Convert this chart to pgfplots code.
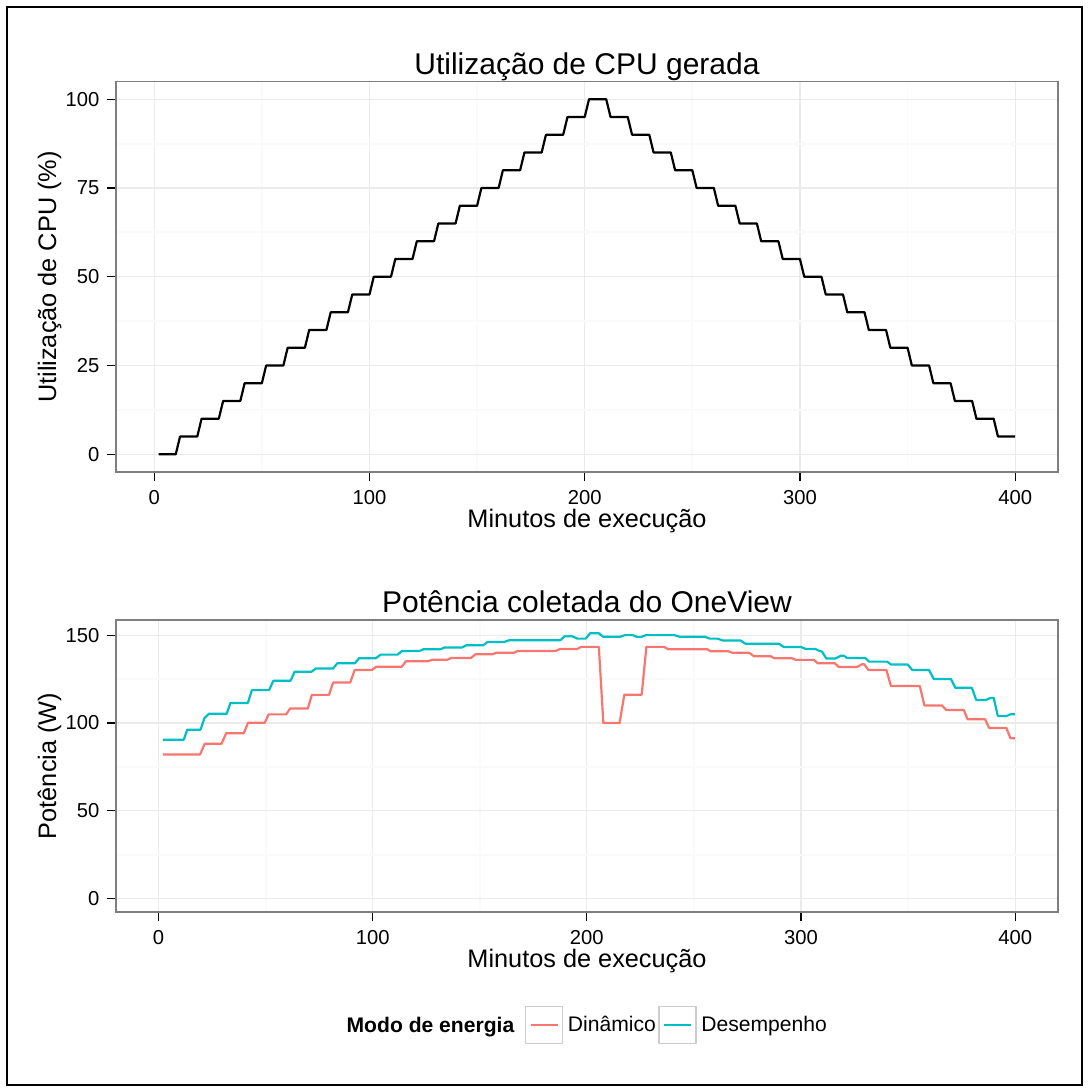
\documentclass[border=0pt]{standalone}
\usepackage{fontspec}
\setmainfont{Liberation Sans}
\usepackage{pgfplots}
\pgfplotsset{compat=1.18}

\definecolor{gridmajor}{HTML}{EBEBEB}
\definecolor{gridminor}{HTML}{FAFAFA}
\definecolor{panelborder}{HTML}{7F7F7F}
\definecolor{keyborder}{HTML}{CCCCCC}
\definecolor{dinamico}{HTML}{F8766D}
\definecolor{desempenho}{HTML}{00BFC4}

\newcommand{\ticksize}{\fontsize{10.1}{12}\selectfont}
\newcommand{\legsize}{\fontsize{10.55}{12.5}\selectfont}
\newcommand{\labsize}{\fontsize{12.65}{15}\selectfont}
\newcommand{\titsize}{\fontsize{15}{18}\selectfont}

\pgfplotsset{
  ggpanel/.style={
    scale only axis,
    width=471.15pt,
    grid=both,
    major grid style={gridmajor, line width=0.6pt},
    minor grid style={gridminor, line width=0.9pt},
    axis line style={panelborder, line width=0.9pt},
    tick align=outside,
    xtick pos=left, ytick pos=left,
    major tick length=4.5pt,
    minor tick length=0pt,
    tick style={black, line width=0.6pt},
    /pgf/number format/assume math mode=true,
    ticklabel style={font=\ticksize, black},
    xticklabel style={inner sep=0pt, yshift=-4.5pt},
    yticklabel style={inner sep=0pt, xshift=-3.5pt},
    xtick={0,100,200,300,400},
    minor xtick={50,150,250,350},
  },
}

\begin{document}
\begin{tikzpicture}[x=0.5pt, y=0.5pt]
\path[use as bounding box] (0,0) rectangle (1089,1092);
\draw[black, line width=0.8pt] (7,7) rectangle (1082,1085);
\coordinate (topSW) at (115.7,620);
\coordinate (botSW) at (115.7,180);

% CPU load generated over time
\begin{axis}[ggpanel,
  at={(topSW)}, anchor=south west,
  height=195.25pt,
  xmin=-17.9, xmax=419.9, ymin=-5, ymax=105,
  ytick={0,25,50,75,100},
  minor ytick={12.5,37.5,62.5,87.5},
]
\addplot[black, line width=1.1pt, line join=round] coordinates {
(2,0)(10,0)(12,5)(20,5)(22,10)(30,10)(32,15)(40,15)(42,20)(50,20)
(52,25)(60,25)(62,30)(70,30)(72,35)(80,35)(82,40)(90,40)(92,45)(100,45)
(102,50)(110,50)(112,55)(120,55)(122,60)(130,60)(132,65)(140,65)(142,70)(150,70)
(152,75)(160,75)(162,80)(170,80)(172,85)(180,85)(182,90)(190,90)(192,95)(200,95)
(202,100)(210,100)(212,95)(220,95)(222,90)(230,90)(232,85)(240,85)(242,80)(250,80)
(252,75)(260,75)(262,70)(270,70)(272,65)(280,65)(282,60)(290,60)(292,55)(300,55)
(302,50)(310,50)(312,45)(320,45)(322,40)(330,40)(332,35)(340,35)(342,30)(350,30)
(352,25)(360,25)(362,20)(370,20)(372,15)(380,15)(382,10)(390,10)(392,5)(400,5)
};
\end{axis}

% Power read from OneView
\begin{axis}[ggpanel,
  at={(botSW)}, anchor=south west,
  height=146pt,
  xmin=-20, xmax=420, ymin=-7.55, ymax=158.6,
  ytick={0,50,100,150},
  minor ytick={25,75,125},
  legend columns=-1,
  legend style={at={(axis description cs:0.434,-0.387)}, anchor=west,
    draw=none, fill=none, inner sep=0pt, outer sep=0pt,
    nodes={inner sep=0pt, font=\legsize},
    /tikz/every odd column/.style={column sep=2.25pt},
    /tikz/every even column/.style={column sep=1.1pt}},
  legend image code/.code={
    \draw[keyborder, line width=0.9pt, fill=white] (0pt,-9.25pt) rectangle (18.5pt,9.25pt);
    \draw[#1] (2.5pt,0pt) -- (16pt,0pt);
  },
]
\addplot[dinamico, line width=1.1pt, line join=round] coordinates {
(2,82.1)(19.4,82.1)(21.6,88.2)(29.4,88.2)(31.6,94.2)(39.8,94.2)(41.8,100.1)(49.6,100.1)
(51.4,104.9)(59.6,104.9)(61.4,108.2)(69.7,108.2)(71.6,116)(79.6,116)(81.5,123)(89.5,123)
(91.6,130.1)(99.6,130.1)(101.6,132)(113.6,132)(115.5,135.1)(125.9,135.1)(127.8,136)(134.9,136)
(136.6,137)(145.9,137)(148,139.1)(156,139.1)(157.7,140)(166,140)(167.8,141)(185.5,141)
(187.4,142.1)(195.4,142.1)(197.4,143.3)(205.6,143.3)(207.7,100)(215.3,100)(217.5,116.1)(225.6,116.1)
(227.8,143.3)(236,143.3)(238,142)(256.2,142)(257.8,140.8)(266,140.8)(267.9,140)(275.7,140)
(278,138)(285.8,138)(287.6,136.8)(295.8,136.8)(297.6,135.9)(306,135.9)(307.8,134)(315.8,134)
(317.6,131.9)(326.2,131.9)(328.5,133.4)(329.5,133.4)(331.5,130.1)(339.9,130.1)(342,121)(355.5,121)
(357.6,110)(365.8,110)(367.8,107.4)(376,107.4)(377.8,102.1)(386,102.1)(387.8,97.2)(395.9,97.2)
(397.8,91.3)(400,91.3)
};
\addlegendentry{Dinâmico}
\addplot[desempenho, line width=1.1pt, line join=round] coordinates {
(2,90.5)(11.8,90.5)(13.4,96.2)(19.6,96.2)(21.5,102.9)(23.5,105.2)(31.8,105.2)(33.6,111.4)
(41.7,111.4)(43.6,118.7)(51.6,118.7)(53.6,124)(61.6,124)(63.6,129.2)(71.5,129.2)(73.4,131)
(81.5,131)(83.5,134)(91.7,134)(93.6,136.8)(101.4,136.8)(103.7,138.9)(111.6,138.9)(113.7,141)
(121.9,141)(123.8,142)(131.8,142)(133.6,143)(141.8,143)(143.7,144.2)(151.6,144.2)(153.6,146.1)
(161.4,146.1)(163.7,147.1)(187.6,147.1)(189.6,149.3)(193.2,149.3)(195.6,148)(199.4,148)(201.6,151.1)
(205.5,151.1)(207.6,149.1)(215.6,149.1)(217.8,150)(221.4,150)(223.6,148.9)(225.3,148.9)(227.6,150)
(240.8,150)(243.2,149.1)(255,149.1)(257.4,148)(261,148)(263.6,146.9)(271.8,146.9)(274,145.1)
(289.6,145.1)(292,143.2)(300,143.2)(302.3,142.1)(306.7,142.1)(308.6,141)(309.8,140.6)(311.8,136.7)
(316.1,136.7)(318.6,138.3)(320,138.3)(321.5,137)(330,137)(331.8,134.9)(340.2,134.9)(342,133.3)
(349.8,133.3)(352,130.1)(359.8,130.1)(362,125)(370,125)(372.1,120)(379.8,120)(381.8,113.1)
(386.3,113.1)(388.4,114.2)(390,114.2)(391.9,104)(396,104)(398,105)(400,105)
};
\addlegendentry{Desempenho}
\end{axis}

% titles, axis labels and legend heading
\node[anchor=base, font=\titsize] at (587,1017) {Utilização de CPU gerada};
\node[anchor=base, font=\labsize] at (587,564) {Minutos de execução};
\node[anchor=base, rotate=90, font=\labsize] at (56,815) {Utilização de CPU (\%)};
\node[anchor=base, font=\titsize] at (587,479) {Potência coletada do OneView};
\node[anchor=base, font=\labsize] at (587,124) {Minutos de execução};
\node[anchor=base, rotate=90, font=\labsize] at (56,326) {Potência (W)};
\node[anchor=base east, inner sep=0pt, font=\legsize\bfseries] at (514.7,59.5) {Modo de energia};
\end{tikzpicture}
\end{document}
